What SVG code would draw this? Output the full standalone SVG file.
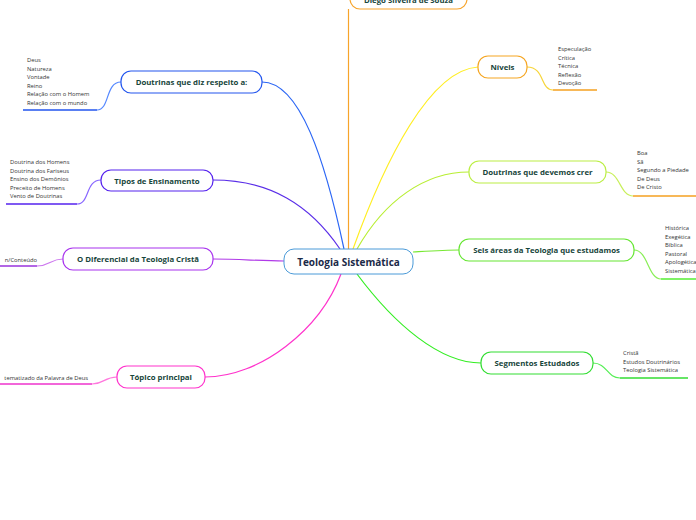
<svg xmlns="http://www.w3.org/2000/svg" width="696" height="520" viewBox="0 0 696 520">
<style>
.node{fill:#fff;stroke-width:1.2}
.lbl{font-family:"Open Sans","Noto Sans",sans-serif;font-weight:bold;font-size:7.8px;fill:#17453b;text-anchor:middle}
.ctr{font-family:"Open Sans","Noto Sans",sans-serif;font-weight:bold;font-size:10px;fill:#1b2a48;text-anchor:middle}
.lst{font-family:"Open Sans","Noto Sans",sans-serif;font-size:5.8px;fill:#333}
.c{fill:none;stroke-width:1.2}
</style>
<rect width="696" height="520" fill="#fff"/>
<g id="connectors">
<path class="c" stroke="#f7a42a" d="M348.5,9 V249"/>
<path class="c" stroke="#ffee22" d="M353,249 C385,160 430,70 478,67"/>
<path class="c" stroke="#b8ee33" d="M357,249 C385,200 425,172 469,172"/>
<path class="c" stroke="#77e833" d="M413,252 C430,251 445,250 459,250"/>
<path class="c" stroke="#33ee22" d="M357,274 C395,325 440,363 481,363"/>
<path class="c" stroke="#2b66f5" d="M344,249 C325,160 300,82 262,82"/>
<path class="c" stroke="#5a2ee8" d="M340,249 C310,205 270,180 213,180"/>
<path class="c" stroke="#b03ae8" d="M213,259 C240,259 260,261 284,261"/>
<path class="c" stroke="#ff33cc" d="M341,274 C320,330 260,377 205,377"/>
<path class="c" stroke="#f7d53a" d="M527,67 C545,67 540,90 553,90"/>
<path class="c" stroke="#c8ef5a" d="M606,172 C620,172 620,196 633,196"/>
<path class="c" stroke="#88ee55" d="M634,250 C648,250 648,279 661,279"/>
<path class="c" stroke="#55ee55" d="M593,363 C607,363 607,378 620,378"/>
<path class="c" stroke="#5588ff" d="M121,82 C105,82 110,110 97,110"/>
<path class="c" stroke="#8866ff" d="M101,180 C85,180 90,204 77,204"/>
<path class="c" stroke="#cc77ee" d="M63,259 C50,259 50,266 37,266"/>
<path class="c" stroke="#ff77dd" d="M117,377 C104,377 104,384 92,384"/>
<path stroke="#f5a020" stroke-width="1.6" d="M553,90 H597"/>
<path stroke="#f5a020" stroke-width="1.6" d="M633,196 H696"/>
<path stroke="#55ee33" stroke-width="1.6" d="M661,279 H696"/>
<path stroke="#33dd33" stroke-width="1.6" d="M620,378 H688"/>
<path stroke="#2255ee" stroke-width="1.6" d="M23,110 H97"/>
<path stroke="#5522ee" stroke-width="1.6" d="M6,204 H77"/>
<path stroke="#9933dd" stroke-width="1.6" d="M0,266 H37"/>
<path stroke="#ee33cc" stroke-width="1.6" d="M0,384 H92"/>
</g>
<g id="diego">
<rect class="node" x="350" y="-14" width="117" height="23" rx="10" stroke="#f7a42a"/>
<text class="lbl" x="408.5" y="2.5">Diego Silveira de Souza</text>
</g>
<g id="center">
<rect x="284" y="249" width="129" height="25" rx="10" fill="#fff" stroke="#4a9ad8" stroke-width="1"/>
<text class="ctr" x="348.5" y="265.5">Teologia Sistemática</text>
</g>
<g id="niveis">
<rect class="node" x="478" y="56" width="49" height="22" rx="10" stroke="#f5a623"/>
<text class="lbl" x="502.5" y="70">Níveis</text>
<g class="lst"><text x="558" y="51">Especulação</text><text x="558" y="59.5">Crítica</text><text x="558" y="68">Técnica</text><text x="558" y="76.5">Reflexão</text><text x="558" y="85">Devoção</text></g>
</g>
<g id="devemos">
<rect class="node" x="469" y="161" width="137" height="22" rx="10" stroke="#bbee44"/>
<text class="lbl" x="537.5" y="175">Doutrinas que devemos crer</text>
<g class="lst"><text x="637" y="155">Boa</text><text x="637" y="163.5">Sã</text><text x="637" y="172">Segundo a Piedade</text><text x="637" y="180.5">De Deus</text><text x="637" y="189">De Cristo</text></g>
</g>
<g id="seis">
<rect class="node" x="459" y="239" width="175" height="22" rx="10" stroke="#66e633"/>
<text class="lbl" x="546.5" y="253">Seis áreas da Teologia que estudamos</text>
<g class="lst"><text x="665" y="230">Histórica</text><text x="665" y="238.5">Exegética</text><text x="665" y="247">Bíblica</text><text x="665" y="255.5">Pastoral</text><text x="665" y="264">Apologética</text><text x="665" y="272.5">Sistemática</text></g>
</g>
<g id="segmentos">
<rect class="node" x="481" y="352" width="112" height="22" rx="10" stroke="#33dd33"/>
<text class="lbl" x="537" y="366">Segmentos Estudados</text>
<g class="lst"><text x="623" y="355">Cristã</text><text x="623" y="363.5">Estudos Doutrinários</text><text x="623" y="372">Teologia Sistemática</text></g>
</g>
<g id="diz">
<rect class="node" x="121" y="71" width="141" height="22" rx="10" stroke="#2255ee"/>
<text class="lbl" x="191.5" y="85">Doutrinas que diz respeito a:</text>
<g class="lst"><text x="27" y="62">Deus</text><text x="27" y="70.5">Natureza</text><text x="27" y="79">Vontade</text><text x="27" y="87.5">Reino</text><text x="27" y="96">Relação com o Homem</text><text x="27" y="104.5">Relação com o mundo</text></g>
</g>
<g id="tipos">
<rect class="node" x="101" y="170" width="112" height="21" rx="10" stroke="#5522ee"/>
<text class="lbl" x="157" y="183.5">Tipos de Ensinamento</text>
<g class="lst"><text x="10" y="164">Doutrina dos Homens</text><text x="10" y="172.5">Doutrina dos Fariseus</text><text x="10" y="181">Ensino dos Demônios</text><text x="10" y="189.5">Preceito de Homens</text><text x="10" y="198">Vento de Doutrinas</text></g>
</g>
<g id="diferencial">
<rect class="node" x="63" y="248" width="150" height="22" rx="10" stroke="#a833ee"/>
<text class="lbl" x="138" y="262">O Diferencial da Teologia Cristã</text>
<g class="lst"><text x="37" y="261.5" text-anchor="end">n/Conteúdo</text></g>
</g>
<g id="topico">
<rect class="node" x="117" y="366" width="88" height="22" rx="10" stroke="#ff33cc"/>
<text class="lbl" x="161" y="380">Tópico principal</text>
<g class="lst"><text x="88" y="379.5" text-anchor="end">tematizado da Palavra de Deus</text></g>
</g>
</svg>
